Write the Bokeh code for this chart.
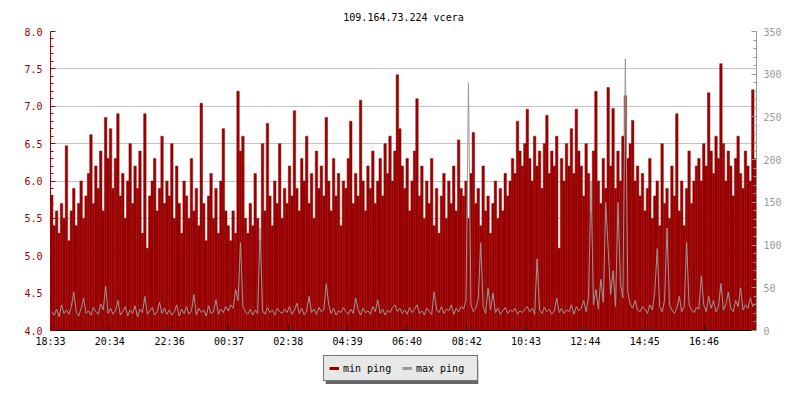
from bokeh.plotting import figure
from bokeh.layouts import column
from bokeh.models import (Range1d, LinearAxis, SingleIntervalTicker, FixedTicker,
                          Legend, LegendItem, Grid, ColumnDataSource,
                          NumeralTickFormatter)
from bokeh.embed import file_html
from bokeh.resources import INLINE

title_text = "109.164.73.224 vcera"
tick_labels = ["18:33", "20:34", "22:36", "00:37", "02:38", "04:39",
               "06:40", "08:42", "10:43", "12:44", "14:45", "16:46"]
series_names = ["min ping", "max ping"]
interval_min = 5
span_min = 1440

min_ping = [
    5.8, 5.4, 5.6, 5.3, 5.7, 5.5, 6.47, 5.2, 5.6, 5.9, 5.4, 5.7, 6.0, 5.5, 5.8, 6.1, 6.62, 5.7, 6.2, 5.9, 6.4, 5.6, 6.85, 6.3,
    6.7, 5.9, 6.3, 6.9, 5.8, 6.1, 5.5, 6.0, 6.5, 5.7, 6.2, 5.9, 6.4, 5.3, 6.9, 5.1, 5.8, 6.0, 6.3, 5.6, 5.9, 6.6, 5.7, 6.0,
    5.8, 6.5, 5.5, 6.2, 5.7, 5.3, 6.0, 5.8, 5.5, 6.3, 5.6, 5.9, 5.4, 7.04, 5.7, 5.2, 5.8, 6.1, 5.5, 5.9, 5.3, 6.0, 6.7, 5.6,
    5.4, 5.2, 5.6, 5.3, 7.2, 6.4, 6.6, 5.5, 5.3, 5.7, 5.4, 6.1, 5.5, 5.2, 6.5, 5.6, 6.77, 5.8, 5.4, 6.0, 5.7, 6.5, 5.5, 5.9,
    5.7, 6.2, 5.8, 6.94, 5.9, 5.6, 6.3, 6.0, 6.6, 5.7, 6.1, 5.5, 6.4, 5.9, 6.2, 5.8, 6.85, 6.0, 5.6, 6.3, 5.8, 6.1, 5.4, 6.0,
    5.9, 6.3, 6.8, 5.7, 6.1, 5.8, 7.08, 6.0, 5.6, 6.2, 5.9, 6.4, 5.7, 6.0, 6.3, 5.8, 6.5, 6.1, 6.6, 6.0, 6.4, 7.42, 6.7, 6.2,
    5.9, 6.3, 5.6, 6.0, 6.4, 7.1, 5.8, 6.2, 5.5, 6.0, 5.7, 6.3, 5.4, 5.9, 5.3, 5.8, 6.1, 5.5, 6.0, 5.7, 6.2, 5.6, 6.55, 5.9,
    5.8, 6.0, 5.5, 6.1, 6.65, 5.7, 5.9, 5.4, 6.2, 5.6, 5.8, 5.3, 5.7, 6.0, 5.5, 5.9, 5.6, 6.1, 5.8, 6.0, 6.3, 6.1, 6.8, 6.4,
    6.2, 6.5, 6.96, 6.3, 6.0, 6.6, 6.2, 6.4, 5.9, 6.5, 6.88, 6.1, 6.4, 6.2, 6.6, 5.1, 6.3, 6.0, 6.5, 6.2, 6.7, 6.1, 6.96, 6.4,
    6.2, 5.8, 6.5, 6.1, 5.6, 6.4, 7.2, 6.0, 5.7, 6.3, 5.9, 7.25, 6.2, 6.97, 5.9, 6.4, 6.0, 6.6, 7.14, 6.3, 6.5, 6.81, 6.0, 6.2,
    5.8, 6.1, 5.6, 5.9, 6.3, 5.5, 5.8, 6.0, 5.4, 6.5, 5.7, 5.9, 5.5, 6.2, 5.8, 6.9, 5.6, 6.0, 5.4, 5.9, 6.4, 5.7, 6.0, 6.2,
    6.3, 6.0, 6.5, 6.2, 7.18, 6.4, 6.1, 6.6, 6.3, 7.57, 6.5, 6.0, 6.4, 6.2, 5.8, 6.3, 6.6, 6.1, 5.9, 6.4, 6.2, 6.0, 7.22, 6.3,
]

max_ping = [
    22, 18, 25, 16, 30, 20, 24, 19, 28, 45, 21, 17, 26, 38, 20, 23, 18, 27, 22, 19, 31, 24, 52, 20,
    26, 19, 23, 35, 18, 22, 28, 17, 24, 20, 29, 16, 25, 21, 40, 19, 23, 27, 18, 22, 33, 20, 26, 19,
    24, 18, 22, 30, 17, 25, 20, 28, 19, 23, 42, 18, 26, 21, 24, 17, 29, 20, 22, 36, 19, 25, 21, 28,
    23, 30, 26, 48, 35, 103, 28, 22, 19, 25, 18, 24, 20, 120, 23, 19, 27, 21, 24, 18, 26, 22, 20, 25,
    21, 28, 19, 24, 32, 20, 26, 18, 23, 40, 21, 25, 19, 27, 22, 24, 55, 30, 20, 26, 18, 23, 21, 27,
    22, 19, 25, 20, 38, 24, 18, 26, 21, 23, 19, 28, 22, 36, 20, 25, 18, 24, 21, 27, 30, 22, 26, 20,
    24, 19, 27, 21, 25, 30, 20, 23, 18, 26, 22, 19, 45, 24, 21, 28, 20, 25, 23, 30, 19, 26, 22, 28,
    25, 35, 290, 30, 22, 26, 38, 103, 28, 20, 50, 24, 44, 21, 26, 19, 23, 27, 20, 24, 22, 26, 19, 23,
    21, 25, 28, 22, 26, 19, 84, 24, 20, 27, 22, 25, 19, 23, 38, 21, 26, 20, 24, 22, 30, 19, 28, 23,
    26, 35, 22, 40, 175, 30, 48, 25, 60, 33, 150, 95, 42, 70, 28, 150, 55, 38, 318, 45, 30, 26, 35, 24,
    22, 28, 25, 20, 30, 24, 45, 96, 28, 22, 35, 120, 30, 24, 20, 26, 40, 22, 28, 103, 30, 24, 21, 27,
    25, 64, 30, 22, 40, 26, 35, 22, 28, 55, 24, 30, 45, 26, 22, 35, 28, 50, 24, 30, 26, 38, 28, 32,
]

RED = "#990000"
GRAY = "#999999"
FONT = "DejaVu Sans Mono"
W = 784
FRAME_L, FRAME_R = 50, 758   # frame edges (both figures share them)


def to_min(s):
    h, m = s.split(":")
    return int(h) * 60 + int(m)


start = to_min(tick_labels[0])
tick_pos = [(to_min(t) - start) % 1440 for t in tick_labels]

x_min = [i * interval_min + interval_min / 2 for i in range(len(min_ping))]
x_max = [i * interval_min + interval_min / 2 for i in range(len(max_ping))]

p = figure(width=W, height=349,
           x_range=Range1d(0, span_min), y_range=Range1d(4, 8),
           x_axis_type=None, y_axis_type=None,
           output_backend="svg", toolbar_location=None,
           min_border_left=FRAME_L, min_border_right=W - FRAME_R,
           min_border_top=31, min_border_bottom=0,
           background_fill_color="white", border_fill_color="white")
p.outline_line_color = None

p.title.text = title_text
p.title.align = "center"
p.title.vertical_align = "top"
p.title.text_font = FONT
p.title.text_font_size = "10px"
p.title.text_font_style = "normal"
p.title.text_color = "black"
p.title.standoff = 14

p.extra_y_ranges = {"ping": Range1d(0, 350)}

left = LinearAxis(ticker=SingleIntervalTicker(interval=0.5, num_minor_ticks=5),
                  formatter=NumeralTickFormatter(format="0.0"))
left.axis_line_color = RED
left.major_tick_line_color = RED
left.minor_tick_line_color = RED
left.major_tick_in = 5
left.major_tick_out = 0
left.minor_tick_in = 3
left.minor_tick_out = 0
left.major_label_text_color = RED
left.major_label_text_font = FONT
left.major_label_text_font_size = "10px"
left.major_label_standoff = 8
p.add_layout(left, "left")

right = LinearAxis(y_range_name="ping",
                   ticker=SingleIntervalTicker(interval=50, num_minor_ticks=5))
right.axis_line_color = GRAY
right.major_tick_line_color = GRAY
right.minor_tick_line_color = GRAY
right.major_tick_in = 5
right.major_tick_out = 0
right.minor_tick_in = 3
right.minor_tick_out = 0
right.major_label_text_color = GRAY
right.major_label_text_font = FONT
right.major_label_text_font_size = "10px"
right.major_label_standoff = 7
p.add_layout(right, "right")

bottom = LinearAxis(ticker=FixedTicker(ticks=tick_pos, minor_ticks=[]),
                    major_label_overrides={tp: lab for tp, lab in zip(tick_pos, tick_labels)})
bottom.axis_line_color = "black"
bottom.major_tick_line_color = "black"
bottom.major_tick_in = 5
bottom.major_tick_out = 0
bottom.minor_tick_line_color = None
bottom.major_label_text_font = FONT
bottom.major_label_text_font_size = "10px"
bottom.major_label_text_color = "black"
bottom.major_label_standoff = 5
p.add_layout(bottom, "below")

p.add_layout(Grid(dimension=1, ticker=left.ticker, grid_line_color="#c4c4c4",
                  grid_line_width=1))

src_min = ColumnDataSource(dict(x=x_min, y=min_ping))
src_max = ColumnDataSource(dict(x=x_max, y=max_ping))
p.vbar(x="x", top="y", bottom=0, width=interval_min, source=src_min,
       fill_color=RED, line_color=RED, line_width=0.5)
p.line(x="x", y="y", source=src_max, y_range_name="ping", line_color=GRAY,
       line_width=1)

# ---- legend strip: a small figure whose frame is aligned with the main frame;
#      its ranges are set to pixel units so the box and its shadow sit exactly ----
LH = 35
lg = figure(width=W, height=LH, x_range=Range1d(FRAME_L, FRAME_R), y_range=Range1d(0, LH),
            x_axis_type=None, y_axis_type=None, output_backend="svg",
            toolbar_location=None, min_border=0,
            min_border_left=FRAME_L, min_border_right=W - FRAME_R,
            background_fill_color="white", border_fill_color="white")
lg.outline_line_color = None
lg.grid.visible = False

box_left, box_bottom, box_w, box_h = 323, 3, 153, 24
lg.quad(left=[box_left + 3], right=[box_left + box_w + 3],
        bottom=[box_bottom - 3], top=[box_bottom + box_h - 3],
        fill_color="#666666", line_color=None)
nan = float("nan")
sw_min = lg.line(x=[nan], y=[nan], line_color=RED, line_width=3)
sw_max = lg.line(x=[nan], y=[nan], line_color=GRAY, line_width=3)

legend = Legend(items=[LegendItem(label=series_names[0], renderers=[sw_min]),
                       LegendItem(label=series_names[1], renderers=[sw_max])],
                location=(box_left - FRAME_L, box_bottom), orientation="horizontal",
                glyph_width=10, glyph_height=14, label_standoff=4,
                label_width=56, spacing=3, padding=5, margin=0,
                label_text_font=FONT, label_text_font_size="10px",
                label_text_color="black",
                background_fill_color="#e8e8e8", background_fill_alpha=1.0,
                border_line_color="black", border_line_width=1)
lg.add_layout(legend, "center")

layout = column(p, lg, spacing=0)
open("out.html", "w").write(file_html(layout, INLINE))
